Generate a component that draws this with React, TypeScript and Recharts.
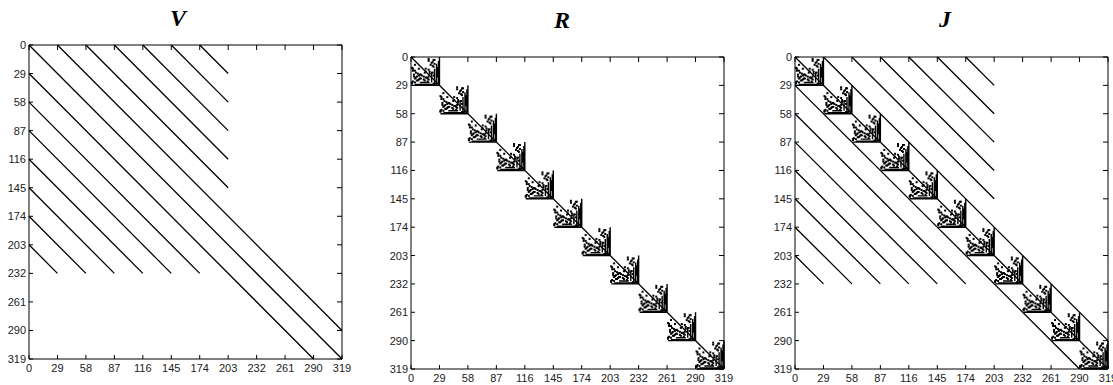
import { ComposedChart, Line, Scatter, XAxis, YAxis } from 'recharts'

// tick positions (block boundaries of the 320 x 320 matrices)
const ticks = [0, 29, 58, 87, 116, 145, 174, 203, 232, 261, 290, 319]
const blockStarts = [0, 29, 58, 87, 116, 145, 174, 203, 232, 261, 290]

// diagonal bands as [col1, row1, col2, row2]
const mainDiagonal = [[0, 0, 319, 319]]
const vUpper = [
  [29, 0, 319, 290],
  [58, 0, 203, 145],
  [87, 0, 203, 116],
  [116, 0, 203, 87],
  [145, 0, 203, 58],
  [174, 0, 203, 29],
]
const vLower = [
  [0, 29, 290, 319],
  [0, 58, 174, 232],
  [0, 87, 145, 232],
  [0, 116, 116, 232],
  [0, 145, 87, 232],
  [0, 174, 58, 232],
  [0, 203, 29, 232],
]

// pattern of one diagonal block of R (offsets inside the block)
// dense columns: [col, rowFrom, rowTo]
const blockColumns = [
  [29, 0, 29], [28, 4, 29], [27, 10, 21], [26, 7, 29], [24, 12, 29], [21, 15, 26],
]
// dense rows: [row, colFrom, colTo]
const blockRows = [
  [29, 1, 29], [28, 4, 25], [26, 9, 19], [27, 22, 28],
]
// scattered entries: [row, col]
const blockDots = [
  [2, 18], [3, 23], [3, 24], [4, 18], [5, 22], [7, 24], [9, 22], [10, 23],
  [8, 4], [11, 1], [12, 2], [14, 4], [15, 15], [16, 14], [17, 7], [18, 9],
  [18, 10], [19, 11], [20, 13], [19, 8], [22, 9], [22, 10], [21, 15],
  [21, 16], [22, 17], [23, 18], [20, 18], [17, 19], [15, 19], [13, 18],
  [24, 6], [24, 7], [23, 13], [24, 14], [12, 15], [8, 20], [6, 21],
  [20, 3], [21, 5], [25, 2], [26, 4], [27, 1], [25, 17], [16, 22], [19, 23],
  [14, 2], [16, 5], [18, 3], [20, 6], [22, 4], [23, 8], [12, 8], [26, 1],
]

const toLineData = (segs: number[][]) =>
  segs.flatMap(([x1, y1, x2, y2]) => [
    { x: x1, y: y1 },
    { x: x2, y: y2 },
    { x: x2, y: null },
  ])

const blockSegments = blockStarts.flatMap((b) => [
  ...blockColumns.map(([c, r1, r2]) => [b + c, b + r1, b + c, b + r2]),
  ...blockRows.map(([r, c1, c2]) => [b + c1, b + r, b + c2, b + r]),
])
const rDots = blockStarts.flatMap((b) => blockDots.map(([r, c]) => ({ x: b + c, y: b + r })))

const vSegments = [...vUpper, ...vLower]
const jSegments = [...vUpper, ...vLower]

const labelFont = '"Liberation Sans", Arial, sans-serif'

const BottomTick = ({ x, y, payload }: any) => (
  <g>
    <line x1={x} y1={y} x2={x} y2={y - 4} stroke="#000" />
    <text x={x} y={y + 13} textAnchor="middle" fontSize={11} fill="#222" fontFamily={labelFont}>
      {payload.value}
    </text>
  </g>
)

const LeftTick = ({ x, y, payload }: any) => (
  <g>
    <line x1={x} y1={y} x2={x + 4} y2={y} stroke="#000" />
    <text x={x - 3} y={y + 4} textAnchor="end" fontSize={11} fill="#222" fontFamily={labelFont}>
      {payload.value}
    </text>
  </g>
)

// top / right axes only carry inward tick marks
const TopTick = ({ x, y }: any) => <line x1={x} y1={y} x2={x} y2={y + 5} stroke="#000" />
const RightTick = ({ x, y }: any) => <line x1={x} y1={y} x2={x - 5} y2={y} stroke="#000" />

const SpyDot = ({ cx, cy }: any) => <rect x={cx - 1} y={cy - 1} width={2} height={2} fill="#000" />

interface PanelProps {
  title: string
  left: number
  width: number
  margin: { top: number; right: number; bottom: number; left: number }
  yAxisWidth: number
  xAxisHeight: number
  titleX: number
  titleY: number
  bands: number[][]
  blocks?: number[][]
  dots?: { x: number; y: number }[]
}

function SpyPanel({ title, left, width, margin, yAxisWidth, xAxisHeight, titleX, titleY, bands, blocks, dots }: PanelProps) {
  const lineProps = {
    dataKey: 'y',
    stroke: '#000',
    dot: false,
    activeDot: false,
    connectNulls: false,
    isAnimationActive: false,
  }
  return (
    <div style={{ position: 'absolute', left, top: 0, width, height: 385 }}>
      <div
        style={{
          position: 'absolute',
          left: titleX - left,
          top: titleY,
          transform: 'translate(-50%, -50%)',
          fontFamily: '"Liberation Serif", "Times New Roman", serif',
          fontWeight: 'bold',
          fontStyle: 'italic',
          fontSize: 24,
          lineHeight: 1,
        }}
      >
        {title}
      </div>
      <ComposedChart width={width} height={385} margin={{ ...margin, top: margin.top - 1, right: margin.right - 1 }}>
        <XAxis
          dataKey="x"
          type="number"
          domain={[0, 319]}
          ticks={ticks}
          interval={0}
          height={xAxisHeight}
          stroke="#000"
          tickLine={false}
          tickSize={0}
          tickMargin={0}
          tick={<BottomTick />}
        />
        <XAxis
          xAxisId="top"
          dataKey="x"
          orientation="top"
          type="number"
          domain={[0, 319]}
          ticks={ticks}
          interval={0}
          height={1}
          stroke="#000"
          tickLine={false}
          tickSize={0}
          tickMargin={0}
          tick={<TopTick />}
        />
        <YAxis
          dataKey="y"
          type="number"
          reversed
          domain={[0, 319]}
          ticks={ticks}
          interval={0}
          width={yAxisWidth}
          stroke="#000"
          tickLine={false}
          tickSize={0}
          tickMargin={0}
          tick={<LeftTick />}
        />
        <YAxis
          yAxisId="right"
          dataKey="y"
          orientation="right"
          type="number"
          reversed
          domain={[0, 319]}
          ticks={ticks}
          interval={0}
          width={1}
          stroke="#000"
          tickLine={false}
          tickSize={0}
          tickMargin={0}
          tick={<RightTick />}
        />
        <Line {...lineProps} xAxisId="top" yAxisId="right" data={toLineData(mainDiagonal)} strokeWidth={1.3} />
        <Line {...lineProps} data={toLineData(bands)} strokeWidth={1.3} />
        {blocks && <Line {...lineProps} data={toLineData(blocks)} strokeWidth={1.4} />}
        {dots && <Scatter data={dots} fill="#000" shape={<SpyDot />} isAnimationActive={false} />}
      </ComposedChart>
    </div>
  )
}

export default function App() {
  return (
    <div style={{ position: 'absolute', left: 0, top: 0, width: 1113, height: 385, overflow: 'hidden', background: '#fff' }}>
      <SpyPanel
        title="V"
        left={0}
        width={370}
        margin={{ top: 45, right: 28, bottom: 6, left: 0 }}
        yAxisWidth={29}
        xAxisHeight={20}
        titleX={178}
        titleY={18}
        bands={vSegments}
      />
      <SpyPanel
        title="R"
        left={370}
        width={370}
        margin={{ top: 57, right: 16, bottom: 0, left: 0 }}
        yAxisWidth={41}
        xAxisHeight={16}
        titleX={562}
        titleY={20}
        bands={[]}
        blocks={blockSegments}
        dots={rDots}
      />
      <SpyPanel
        title="J"
        left={740}
        width={373}
        margin={{ top: 57, right: 5, bottom: 0, left: 0 }}
        yAxisWidth={55}
        xAxisHeight={16}
        titleX={945}
        titleY={19}
        bands={jSegments}
        blocks={blockSegments}
        dots={rDots}
      />
    </div>
  )
}
